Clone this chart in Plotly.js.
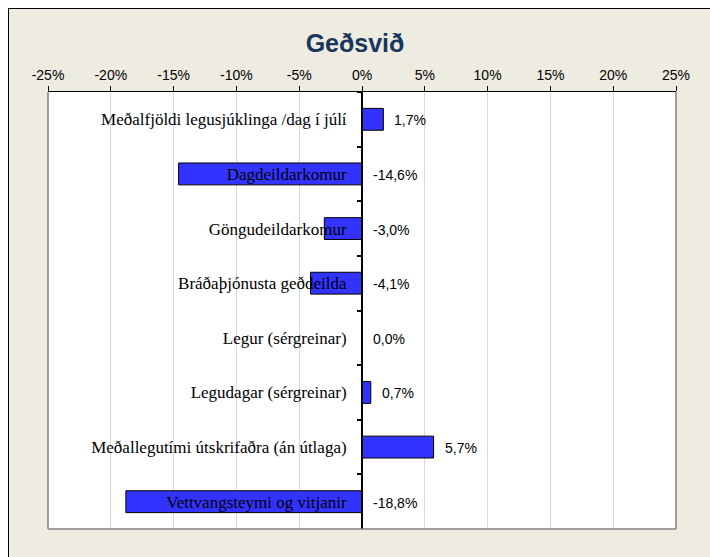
<!DOCTYPE html>
<html>
<head>
<meta charset="utf-8">
<script src="https://cdn.plot.ly/plotly-3.0.1.min.js"></script>
<style>
  html, body { margin:0; padding:0; background:#ffffff; width:710px; height:557px; overflow:hidden; }
  #frame { position:absolute; left:8px; top:8px; width:702px; height:549px; background:#EEEBE0; border-left:1px solid #000; border-top:1px solid #000; }
  #chart { position:absolute; left:0; top:0; width:710px; height:557px; }
</style>
</head>
<body>
<div id="frame"></div>
<div id="chart"></div>
<script>
const categories = [
  "Meðalfjöldi legusjúklinga /dag í júlí",
  "Dagdeildarkomur",
  "Göngudeildarkomur",
  "Bráðaþjónusta geðdeilda",
  "Legur (sérgreinar)",
  "Legudagar (sérgreinar)",
  "Meðallegutími útskrifaðra (án útlaga)",
  "Vettvangsteymi og vitjanir"
];
const values = [1.7, -14.6, -3.0, -4.1, 0.0, 0.7, 5.7, -18.8];
const xTicks = [-25, -20, -15, -10, -5, 0, 5, 10, 15, 20, 25];
const chartTitle = "Geðsvið";

const fmt = v => v.toFixed(1).replace('.', ',') + '%';

const trace = {
  type: 'bar',
  orientation: 'h',
  x: values,
  y: categories,
  marker: { color: '#3333FF', line: { color: '#000000', width: 1 } },
  hoverinfo: 'skip'
};

const annotations = values.map((v, i) => ({
  x: Math.max(v, 0),
  y: categories[i],
  xref: 'x', yref: 'y',
  text: fmt(v),
  showarrow: false,
  xanchor: 'left',
  yanchor: 'middle',
  xshift: 9,
  yshift: -1,
  font: { family: 'Liberation Sans, Arial, sans-serif', size: 14, color: '#000000' }
}));

const layout = {
  width: 710, height: 557,
  paper_bgcolor: 'rgba(0,0,0,0)',
  plot_bgcolor: '#ffffff',
  margin: { l: 48, r: 34, t: 92, b: 28 },
  showlegend: false,
  bargap: 0.6,
  title: {
    text: '<b>' + chartTitle + '</b>',
    x: 0.5, xref: 'container', xanchor: 'center',
    y: 1 - 43/557, yref: 'container', yanchor: 'middle',
    font: { family: 'Liberation Sans, Arial, sans-serif', size: 25, color: '#17375E' }
  },
  xaxis: {
    side: 'top',
    range: [-25, 25],
    tickvals: xTicks,
    ticktext: xTicks.map(t => t + '%'),
    ticks: 'outside', ticklen: 5, tickwidth: 1, tickcolor: '#000000',
    showline: true, linecolor: '#000000', linewidth: 1,
    showgrid: true, gridcolor: '#D9D9D9', gridwidth: 1,
    zeroline: false,
    tickfont: { family: 'Liberation Sans, Arial, sans-serif', size: 14, color: '#000000' },
    fixedrange: true
  },
  yaxis: {
    type: 'category',
    autorange: 'reversed',
    anchor: 'free', position: 0.5,
    showline: true, linecolor: '#000000', linewidth: 2,
    ticks: 'outside', ticklen: 4, tickwidth: 2, tickcolor: '#000000',
    tickson: 'boundaries',
    showgrid: false, zeroline: false,
    ticklabelstandoff: 11,
    tickfont: { family: 'Liberation Serif, Times New Roman, serif', size: 17, color: '#000000' },
    fixedrange: true
  },
  shapes: [
    { type: 'line', xref: 'paper', yref: 'paper', x0: 0, x1: 0, y0: 0, y1: 1, line: { color: '#808080', width: 1.5 } },
    { type: 'line', xref: 'paper', yref: 'paper', x0: 1, x1: 1, y0: 0, y1: 1, line: { color: '#808080', width: 1.5 } },
    { type: 'line', xref: 'paper', yref: 'paper', x0: 0, x1: 1, y0: 0, y1: 0, line: { color: '#808080', width: 1.5 } }
  ],
  annotations: annotations
};

Plotly.newPlot('chart', [trace], layout, { staticPlot: true, displayModeBar: false });
</script>
</body>
</html>
